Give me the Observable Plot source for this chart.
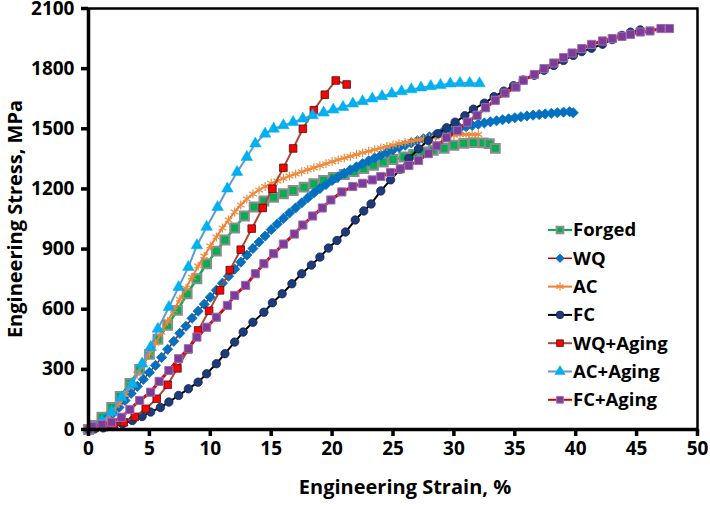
<!DOCTYPE html>
<html><head><meta charset="utf-8">
<script src="https://cdn.jsdelivr.net/npm/d3@7"></script>
<script src="https://cdn.jsdelivr.net/npm/@observablehq/plot@0.6"></script>
<style>
body{margin:0;background:#fff;}
#chart svg{display:block;font-family:"Open Sans",sans-serif;}
</style>
</head><body><div id="chart"></div>
<script>
const xTicks = [0,5,10,15,20,25,30,35,40,45,50];
const yTicks = [0,300,600,900,1200,1500,1800,2100];
const xTitle = "Engineering Strain, %";
const yTitle = "Engineering Stress, MPa";
const seriesNames = ["Forged","WQ","AC","FC","WQ+Aging","AC+Aging","FC+Aging"];

// [strain %, stress MPa]
const forged = [[0,0],[0.4,20],[1.1,61],[1.9,110],[2.6,165],[3.4,230],[4.2,300],[5.0,375],[5.7,450],[6.5,520],[7.3,594],[8.1,677],[8.9,752],[9.7,827],[10.5,890],[11.2,945],[12.0,1005],[12.8,1065],[13.6,1110],[14.4,1140],[15.2,1158],[16.0,1176],[16.8,1192],[17.7,1209],[18.5,1226],[19.3,1243],[20.1,1257],[21.0,1272],[21.8,1287],[22.6,1301],[23.4,1318],[24.2,1334],[25.0,1347],[25.9,1359],[26.7,1372],[27.5,1384],[28.3,1393],[29.2,1403],[30.0,1418],[30.8,1427],[31.6,1431],[32.4,1430],[32.9,1426],[33.4,1402]];
const wq = [[0,0],[0.5,10],[1,30],[1.5,55],[2,80],[2.5,110],[3,145],[3.5,180],[4,215],[4.5,250],[5,285],[5.5,320],[6,360],[6.5,400],[7,440],[7.5,480],[8,515],[8.5,555],[9,590],[9.5,625],[10,660],[10.5,695],[11,730],[11.5,765],[12,800],[12.5,835],[13,870],[13.5,903],[14,935],[14.5,965],[15,997],[15.5,1025],[16,1053],[16.5,1080],[17,1105],[17.5,1130],[18,1155],[18.5,1180],[19,1202],[19.5,1222],[20,1242],[20.5,1260],[21,1278],[21.5,1295],[22,1310],[22.5,1326],[23,1340],[23.5,1355],[24,1368],[24.5,1382],[25,1395],[25.5,1407],[26,1418],[26.5,1430],[27,1440],[27.5,1450],[28,1460],[28.5,1470],[29,1480],[29.5,1488],[30,1496],[30.5,1503],[31,1510],[31.5,1517],[32,1523],[32.5,1529],[33,1535],[33.5,1540],[34,1545],[34.5,1550],[35,1555],[35.5,1560],[36,1564],[36.5,1568],[37,1571],[37.5,1574],[38,1577],[38.5,1580],[39,1583],[39.5,1585],[39.8,1580]];
const ac = [[0,0],[0.5,8],[1,22],[1.5,45],[2,85],[2.5,130],[3,175],[3.5,225],[4,275],[4.5,325],[5,380],[5.5,430],[6,485],[6.5,540],[7,595],[7.5,650],[8,705],[8.5,760],[9,815],[9.5,865],[10,915],[10.5,960],[11,1005],[11.5,1045],[12,1085],[12.5,1120],[13,1150],[13.5,1175],[14,1195],[14.5,1212],[15,1228],[15.5,1240],[16,1252],[16.5,1264],[17,1275],[17.5,1286],[18,1296],[18.5,1306],[19,1316],[19.5,1326],[20,1336],[20.5,1345],[21,1354],[21.5,1363],[22,1372],[22.5,1380],[23,1388],[23.5,1396],[24,1404],[24.5,1412],[25,1419],[25.5,1426],[26,1432],[26.5,1438],[27,1444],[27.5,1449],[28,1454],[28.5,1458],[29,1462],[29.5,1465],[30,1468],[30.5,1470],[31,1471],[31.5,1472],[32,1472]];
const fc = [[0,0],[0.5,3],[1.2,8],[2.0,15],[2.8,28],[3.6,45],[4.4,65],[5.1,87],[5.9,110],[6.6,137],[7.4,170],[8.2,203],[9.0,236],[9.7,278],[10.5,328],[11.2,378],[12.0,436],[12.7,486],[13.5,535],[14.4,585],[15.1,632],[15.9,677],[16.7,727],[17.5,777],[18.3,820],[19.0,860],[19.7,905],[20.4,943],[21.1,985],[21.9,1045],[22.6,1090],[23.2,1125],[24.0,1190],[24.8,1245],[25.6,1298],[26.3,1352],[27.1,1400],[27.9,1442],[28.7,1476],[29.4,1505],[30.1,1533],[30.9,1565],[31.6,1598],[32.5,1628],[33.3,1660],[34.1,1688],[34.9,1715],[35.7,1743],[36.6,1767],[37.4,1792],[38.2,1816],[39.0,1841],[39.8,1866],[40.5,1885],[41.3,1902],[42.2,1922],[43.0,1945],[43.8,1966],[44.5,1982],[45.3,1993]];
const wqAging = [[0,0],[0.5,8],[1.3,12],[2.1,18],[2.9,36],[3.8,63],[4.7,103],[5.6,153],[6.5,223],[7.3,305],[8.2,400],[9.0,494],[9.9,592],[10.8,694],[11.6,795],[12.5,897],[13.4,1002],[14.3,1105],[15.1,1201],[16.0,1305],[16.8,1402],[17.6,1500],[18.5,1593],[19.4,1670],[20.3,1741],[21.2,1721]];
const acAging = [[0,0],[0.4,10],[1.1,40],[1.9,86],[2.7,160],[3.6,228],[4.4,328],[5.1,411],[5.7,502],[6.6,610],[7.4,710],[8.2,810],[8.9,918],[9.7,1010],[10.6,1109],[11.4,1201],[12.2,1284],[13.0,1359],[13.7,1426],[14.5,1475],[15.2,1500],[16.0,1517],[16.8,1533],[17.6,1550],[18.4,1567],[19.3,1580],[20.1,1595],[20.9,1608],[21.7,1625],[22.5,1637],[23.3,1650],[24.1,1662],[24.9,1675],[25.7,1686],[26.5,1696],[27.3,1705],[28.1,1712],[28.9,1718],[29.7,1725],[30.5,1728],[31.3,1728],[32.1,1726]];
const fcAging = [[0,0],[0.3,15],[1.1,25],[1.9,36],[2.7,61],[3.4,100],[4.2,145],[5.1,186],[5.8,240],[6.6,294],[7.4,353],[8.2,403],[8.9,461],[9.7,510],[10.5,560],[11.4,619],[12.0,669],[12.9,719],[13.7,777],[14.4,827],[15.2,877],[16.0,925],[16.9,975],[17.6,1020],[18.4,1065],[19.2,1105],[19.9,1145],[20.8,1185],[21.7,1212],[22.5,1228],[23.3,1245],[24.0,1262],[24.8,1282],[25.6,1300],[26.3,1317],[27.1,1342],[27.9,1376],[28.6,1415],[29.4,1455],[30.3,1492],[31.1,1533],[31.9,1567],[32.6,1605],[33.4,1642],[34.2,1678],[35.1,1708],[35.7,1742],[36.6,1771],[37.4,1800],[38.2,1828],[39.0,1855],[39.7,1878],[40.5,1900],[41.3,1921],[42.2,1938],[43.0,1950],[43.8,1961],[44.5,1971],[45.3,1983],[46.1,1988],[47.0,2000],[47.7,2000]];

const seriesData = [forged, wq, ac, fc, wqAging, acAging, fcAging];
const lineColors = ["#00B050","#C00000","#ED7D31","#000000","#A9473A","#5B9BD5","#E00000"];
const lineWidths = [2.5,1.5,2,2,2,2,3];
const symbols = ["square","diamond2","asterisk","circle","square","triangle","square"];
const fills = ["#00B050","#0070C0","none","#1F3A7A","#FF0000","#00B0F0","#7D3C98"];
const strokes = ["#8C8C8C","#0070C0","#F08A3C","#0F2552","#3A1A1A","#00B0F0","#9A6FB0"];
const radii = [5,4.6,4.2,4.2,4.3,4.3,4.6];
const strokeWs = [2,0.8,1.2,0.8,0.8,0.5,1];

const marks = [];
seriesData.forEach((data, i) => {
  marks.push(Plot.line(data, {x: d => d[0], y: d => d[1], stroke: lineColors[i], strokeWidth: lineWidths[i]}));
  marks.push(Plot.dot(data, {x: d => d[0], y: d => d[1], symbol: symbols[i], r: radii[i], fill: fills[i], stroke: strokes[i], strokeWidth: strokeWs[i]}));
});

const chart = Plot.plot({
  width: 710, height: 509,
  marginLeft: 88, marginRight: 13, marginTop: 8, marginBottom: 80,
  style: {fontFamily: "'Open Sans', sans-serif", color: "#000", background: "#fff", fontSize: "19px", fontWeight: "bold"},
  x: {domain: [0, 50]},
  y: {domain: [0, 2100]},
  marks: [
    Plot.frame({stroke: "#000", strokeWidth: 2.5}),
    ...marks,
    Plot.ruleX([0], {stroke: "#000", strokeWidth: 3.5}),
    Plot.ruleY([0], {stroke: "#000", strokeWidth: 3.5}),
    Plot.axisX({ticks: xTicks, tickSize: 7, strokeWidth: 3.5, tickPadding: 5, fontSize: 19, fontWeight: "bold", tickFormat: d => String(d), label: null}),
    Plot.axisY({ticks: yTicks, tickSize: 7, strokeWidth: 3.5, tickPadding: 7, fontSize: 19, fontWeight: "bold", tickFormat: d => String(d), label: null}),
    Plot.text([xTitle], {frameAnchor: "bottom", dy: 64, dx: 12, fontSize: 20, fontWeight: "bold", textAnchor: "middle", text: d => d}),
    Plot.text([yTitle], {frameAnchor: "left", dx: -73, rotate: -90, fontSize: 20, fontWeight: "bold", textAnchor: "middle", text: d => d})
  ]
});
document.getElementById("chart").appendChild(chart);

// Legend (inside plot, right side)
const symMap = {square: d3.symbolSquare, diamond2: d3.symbolDiamond2, asterisk: d3.symbolAsterisk, circle: d3.symbolCircle, triangle: d3.symbolTriangle};
const svg = d3.select(chart);
const lg = svg.append("g").attr("transform", "translate(548,230)").attr("text-anchor", "start");
seriesNames.forEach((name, i) => {
  const g = lg.append("g").attr("transform", `translate(0,${i * 28.3})`);
  g.append("line").attr("x1", 0).attr("x2", 24).attr("y1", 0).attr("y2", 0)
    .attr("stroke", lineColors[i]).attr("stroke-width", Math.min(lineWidths[i], 2));
  g.append("path").attr("transform", "translate(12,0)")
    .attr("d", d3.symbol(symMap[symbols[i]], Math.PI * 3.8 * 3.8)())
    .attr("fill", fills[i]).attr("stroke", strokes[i]).attr("stroke-width", strokeWs[i]);
  g.append("text").attr("x", 25).attr("y", 0).attr("dy", "0.35em")
    .attr("font-size", 18.5).attr("font-weight", "bold").attr("fill", "#000").text(name);
});
</script>
</body></html>
